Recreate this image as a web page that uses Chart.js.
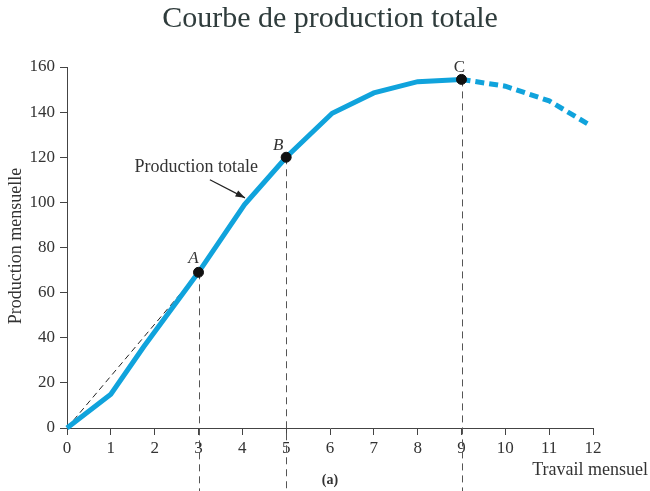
<!DOCTYPE html>
<html>
<head>
<meta charset="utf-8">
<script src="https://cdn.jsdelivr.net/npm/chart.js@4"></script>
<style>
  html, body { margin: 0; padding: 0; background: #fff; }
  #wrap { width: 650px; height: 491px; }
</style>
</head>
<body>
<div id="wrap"><canvas id="chart" width="650" height="491"></canvas></div>
<script>
// Data
const workUnits = [0, 1, 1.75, 3, 4.05, 5, 6.05, 7, 8, 9, 10, 11, 11.95];
const totalOutput = [0, 15, 36, 69, 99, 120, 139.5, 148.5, 153.5, 154.5, 151.5, 145, 134];
const dashedFrom = 9; // index where the curve becomes dashed (point C)
const pointNames = ["A", "B", "C"];
const pointX = [3, 5, 9];
const pointY = [69, 120, 154.5];
const xTicks = [0, 1, 2, 3, 4, 5, 6, 7, 8, 9, 10, 11, 12];
const yTicks = [0, 20, 40, 60, 80, 100, 120, 140, 160];

const serif = "'Liberation Serif', 'DejaVu Serif', serif";
const inkColor = "#333";
const curveColor = "#10a3dc";

const curveData = workUnits.map((x, i) => ({ x: x, y: totalOutput[i] }));
const markedPoints = pointX.map((x, i) => ({ x: x, y: pointY[i] }));

// Extra drawing: title, axis names, guides, letters, annotation arrow
const decorations = {
  id: "decorations",
  beforeDatasetsDraw(chart) {
    const ctx = chart.ctx;
    const xs = chart.scales.x, ys = chart.scales.y;
    ctx.save();
    ctx.strokeStyle = "#555";
    ctx.lineWidth = 1;
    ctx.setLineDash([7, 5]);
    pointX.forEach((x, i) => {
      const px = Math.round(xs.getPixelForValue(x)) + 0.5;
      ctx.beginPath();
      ctx.moveTo(px, ys.getPixelForValue(pointY[i]));
      ctx.lineTo(px, chart.height);
      ctx.stroke();
    });
    ctx.restore();
  },
  afterDraw(chart) {
    const ctx = chart.ctx;
    const xs = chart.scales.x, ys = chart.scales.y;
    ctx.save();

    // title
    ctx.fillStyle = "#2f3c3c";
    ctx.font = "30px " + serif;
    ctx.textAlign = "center";
    ctx.textBaseline = "middle";
    ctx.fillText("Courbe de production totale", 330, 19);

    // y axis name
    ctx.fillStyle = inkColor;
    ctx.font = "18px " + serif;
    ctx.save();
    ctx.translate(16, 246);
    ctx.rotate(-Math.PI / 2);
    ctx.fillText("Production mensuelle", 0, 0);
    ctx.restore();

    // x axis name
    ctx.textAlign = "right";
    ctx.fillText("Travail mensuel", 648, 470);

    // panel tag
    ctx.textAlign = "center";
    ctx.font = "bold 14px " + serif;
    ctx.fillText("(a)", 330, 480);

    // point letters
    ctx.font = "italic 17px " + serif;
    ctx.fillText(pointNames[0], xs.getPixelForValue(3) - 5, ys.getPixelForValue(69) - 14);
    ctx.fillText(pointNames[1], xs.getPixelForValue(5) - 8, ys.getPixelForValue(120) - 12);
    ctx.font = "17px " + serif;
    ctx.fillText(pointNames[2], xs.getPixelForValue(9) - 2, ys.getPixelForValue(154.5) - 12);

    // annotation
    ctx.font = "18px " + serif;
    ctx.fillText("Production totale", xs.getPixelForValue(2.95), ys.getPixelForValue(115.7));
    const x0 = xs.getPixelForValue(3.26), y0 = ys.getPixelForValue(110);
    const x1 = xs.getPixelForValue(4.06), y1 = ys.getPixelForValue(102);
    ctx.strokeStyle = "#222";
    ctx.lineWidth = 1.2;
    ctx.beginPath();
    ctx.moveTo(x0, y0);
    ctx.lineTo(x1, y1);
    ctx.stroke();
    const ang = Math.atan2(y1 - y0, x1 - x0);
    ctx.fillStyle = "#222";
    ctx.beginPath();
    ctx.moveTo(x1, y1);
    ctx.lineTo(x1 - 10 * Math.cos(ang - 0.35), y1 - 10 * Math.sin(ang - 0.35));
    ctx.lineTo(x1 - 10 * Math.cos(ang + 0.35), y1 - 10 * Math.sin(ang + 0.35));
    ctx.closePath();
    ctx.fill();

    ctx.restore();
  }
};

new Chart(document.getElementById("chart"), {
  type: "scatter",
  data: {
    datasets: [
      {
        // ray from origin to A
        data: [{ x: 0, y: 0 }, { x: pointX[0], y: pointY[0] }],
        showLine: true,
        borderColor: "#222",
        borderWidth: 1,
        borderDash: [6, 4],
        pointRadius: 0,
        clip: false,
        order: 3,
      },
      {
        data: curveData,
        showLine: true,
        borderColor: curveColor,
        borderWidth: 5,
        pointRadius: 0,
        tension: 0,
        clip: false,
        segment: {
          borderDash: (c) => (c.p0DataIndex >= dashedFrom ? [9, 5] : undefined),
        },
        order: 2,
      },
      {
        data: markedPoints,
        showLine: false,
        pointRadius: 5,
        pointBackgroundColor: "#111",
        pointBorderColor: "#111",
        clip: false,
        order: 1,
      },
    ],
  },
  options: {
    responsive: false,
    animation: false,
    events: [],
    layout: { padding: { top: 67, right: 57, left: 0, bottom: 0 } },
    plugins: {
      legend: { display: false },
      tooltip: { enabled: false },
    },
    scales: {
      x: {
        type: "linear",
        min: 0,
        max: 12,
        afterBuildTicks: (s) => { s.ticks = xTicks.map((v) => ({ value: v })); },
        afterFit: (s) => { s.height = 63; },
        ticks: { color: inkColor, font: { family: serif, size: 17 }, padding: 3 },
        grid: { drawOnChartArea: false, drawTicks: true, tickLength: 7, color: "#444" },
        border: { color: "#444", width: 1 },
      },
      y: {
        min: 0,
        max: 160,
        afterBuildTicks: (s) => { s.ticks = yTicks.map((v) => ({ value: v })); },
        afterFit: (s) => { s.width = 67; },
        ticks: { color: inkColor, font: { family: serif, size: 17 }, padding: 5 },
        grid: { drawOnChartArea: false, drawTicks: true, tickLength: 7, color: "#444" },
        border: { color: "#444", width: 1 },
      },
    },
  },
  plugins: [decorations],
});
</script>
</body>
</html>
